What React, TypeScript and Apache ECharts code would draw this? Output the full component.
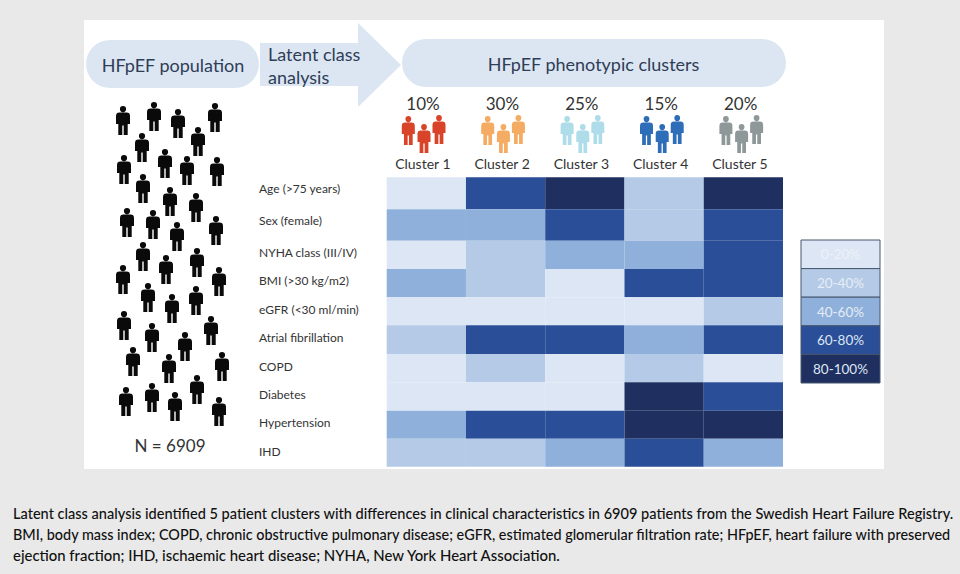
import React, { useEffect, useRef } from "react";
import * as echarts from "echarts";

const clusters = ["Cluster 1", "Cluster 2", "Cluster 3", "Cluster 4", "Cluster 5"];
const clusterShares = ["10%", "30%", "25%", "15%", "20%"];
const clusterColors = ["#D9432A", "#F4AC63", "#AEDCE8", "#2E6DB8", "#8F9899"];
const traits = [
  "Age (>75 years)", "Sex (female)", "NYHA class (III/IV)", "BMI (>30 kg/m2)", "eGFR (<30 ml/min)",
  "Atrial fibrillation", "COPD", "Diabetes", "Hypertension", "IHD",
];
// Prevalence band per cluster: 0 = 0-20%, 1 = 20-40%, 2 = 40-60%, 3 = 60-80%, 4 = 80-100%
const age = [0, 3, 4, 1, 4];
const sex = [2, 2, 3, 1, 3];
const nyha = [0, 1, 2, 2, 3];
const bmi = [2, 1, 0, 3, 3];
const egfr = [0, 0, 0, 0, 1];
const af = [1, 3, 3, 2, 3];
const copd = [0, 1, 0, 1, 0];
const diabetes = [0, 0, 0, 4, 3];
const hypertension = [2, 3, 3, 4, 4];
const ihd = [1, 1, 2, 3, 2];
const bands = [age, sex, nyha, bmi, egfr, af, copd, diabetes, hypertension, ihd];

const bandLabels = ["0-20%", "20-40%", "40-60%", "60-80%", "80-100%"];
const bandColors = ["#DCE6F4", "#B5CAE6", "#8FB0DA", "#2A4F98", "#1F3060"];
const legendTextColors = ["#EDF2F9", "#E6EDF6", "#E6EDF6", "#DDE6F4", "#DDE6F4"];

// The source figure's rows are not of equal height; positions on the y scale
const rowEdges = [0, 32, 63.4, 91.7, 120, 148, 176.7, 205, 233.4, 261.4, 289.4];
const labelCenters = [11.5, 43.2, 75.2, 103.2, 132.2, 160.2, 189.2, 217.2, 245.2, 274.2];

const crowd = [
  [123, 106], [154, 102], [178, 109], [215, 103], [198, 127], [142, 133], [165, 149], [124, 155],
  [187, 156], [217, 157], [143, 174], [170, 187], [196, 193], [127, 208], [153, 210], [177, 222],
  [216, 216], [143, 242], [166, 255], [197, 248], [123, 265], [219, 267], [148, 283], [196, 286],
  [172, 294], [124, 311], [152, 323], [211, 316], [185, 332], [133, 347], [169, 354], [222, 352],
  [197, 375], [126, 387], [152, 383], [175, 392], [219, 397],
];
const trio = [[408.3, 116], [424, 124], [439, 115]];

const caption = [
  "Latent class analysis identified 5 patient clusters with differences in clinical characteristics in 6909 patients from the Swedish Heart Failure Registry.",
  "BMI, body mass index; COPD, chronic obstructive pulmonary disease; eGFR, estimated glomerular filtration rate; HFpEF, heart failure with preserved",
  "ejection fraction; IHD, ischaemic heart disease; NYHA, New York Heart Association.",
];
const captionSizes = [14.55, 14.4, 14.9];

const PERSON =
  "M7 0A3.1 3.1 0 1 1 7 6.2A3.1 3.1 0 1 1 7 0Z M3.5 6.6H10.5Q14 6.6 14 10V18H11.7V29H7.7V19.5H6.3V29H2.3V18H0V10Q0 6.6 3.5 6.6Z";
echarts.graphic.registerShape("person", echarts.graphic.extendPath(PERSON, {}) as any);

const FONT = "Lato";
const HEAD = "#2F3D57";
const BODY = "#333333";

function label(text: string, x: number, y: number, fontSize: number, fill: string, textAlign = "center", fontWeight: any = 400) {
  return {
    type: "text", x, y, silent: true,
    style: { text, fontSize, fontFamily: FONT, fontWeight, fill, textAlign, textVerticalAlign: "middle" },
  };
}

function buildGraphic() {
  const els: any[] = [];
  els.push({ type: "rect", shape: { x: 84, y: 20, width: 800, height: 449 }, style: { fill: "#FFFFFF" }, silent: true });
  els.push({ type: "rect", shape: { x: 86, y: 40, width: 173, height: 48, r: 24 }, style: { fill: "#DCE6F2" }, silent: true });
  els.push({
    type: "polygon",
    shape: { points: [[260, 43], [358, 43], [358, 23], [401, 65], [358, 107], [358, 86], [260, 86]] },
    style: { fill: "#DCE6F2" }, silent: true,
  });
  els.push({ type: "rect", shape: { x: 402, y: 39, width: 384, height: 48, r: 24 }, style: { fill: "#DCE6F2" }, silent: true });
  els.push(label("HFpEF population", 173, 64.5, 18, HEAD));
  els.push(label("Latent class", 268, 53.5, 18, HEAD, "left"));
  els.push(label("analysis", 268, 77, 18, HEAD, "left"));
  els.push(label("HFpEF phenotypic clusters", 593.5, 64, 18, HEAD));
  els.push(label("N = 6909", 170, 445.5, 17, BODY));
  crowd.forEach(([x, y]) => {
    els.push({ type: "person", x: x - 7, y, style: { fill: "#0A0A0A" }, silent: true });
  });
  clusters.forEach((_, i) => {
    const dx = i * 79.4;
    els.push(label(clusterShares[i], 423 + i * 79.4, 103, 17, BODY));
    trio.forEach(([x, y]) => {
      els.push({
        type: "person", x: x + dx - 6.5, y, scaleX: 0.93, scaleY: 1,
        style: { fill: clusterColors[i] }, silent: true,
      });
    });
  });
  bandLabels.forEach((text, i) => {
    const h = 28.6;
    const y = 240 + i * h;
    els.push({
      type: "rect", shape: { x: 801, y, width: 79, height: h },
      style: { fill: bandColors[i], stroke: "#46566E", lineWidth: 1 }, silent: true,
    });
    els.push(label(text, 840.5, y + h / 2, 13.5, legendTextColors[i]));
  });
  caption.forEach((text, i) => {
    els.push(label(text, 13, 513.5 + i * 20.6, captionSizes[i], "#111111", "left", 500));
  });
  return els;
}

function renderCell(_: any, api: any) {
  const col = api.value(0);
  const row = api.value(3);
  const band = api.value(2);
  const top = api.coord([col, rowEdges[row]]);
  const bottom = api.coord([col, rowEdges[row + 1]]);
  const w = api.size([1, 0])[0];
  return {
    type: "rect",
    shape: { x: top[0] - w / 2, y: top[1], width: w, height: bottom[1] - top[1] },
    style: { fill: bandColors[band] },
  };
}

export default function App() {
  const ref = useRef<HTMLDivElement>(null);
  useEffect(() => {
    const chart = echarts.init(ref.current!, undefined, { renderer: "svg" });
    const cells: number[][] = [];
    bands.forEach((row, r) => {
      row.forEach((band, c) => {
        cells.push([c, (rowEdges[r] + rowEdges[r + 1]) / 2, band, r]);
      });
    });
    chart.setOption({
      animation: false,
      backgroundColor: "#E9E9E9",
      textStyle: { fontFamily: FONT },
      graphic: { elements: buildGraphic() },
      grid: { left: 386.7, top: 177.3, width: 396.3, height: 289.4 },
      xAxis: {
        type: "category",
        position: "top",
        data: clusters,
        axisLine: { show: false },
        axisTick: { show: false },
        splitLine: { show: false },
        axisLabel: {
          color: BODY, fontSize: 14, fontFamily: FONT, margin: 7, padding: [0, 7, 0, 0], interval: 0,
        },
      },
      yAxis: {
        type: "value",
        inverse: true,
        min: 0,
        max: 289.4,
        axisLine: { show: false },
        axisTick: { show: false },
        splitLine: { show: false },
        axisLabel: {
          customValues: labelCenters,
          color: BODY, fontSize: 12, fontFamily: FONT, align: "left", margin: 127.7, hideOverlap: false,
          formatter: (v: number) => {
            let best = 0;
            labelCenters.forEach((c, i) => {
              if (Math.abs(c - v) < Math.abs(labelCenters[best] - v)) best = i;
            });
            return traits[best];
          },
        },
      },
      series: [
        {
          type: "custom",
          renderItem: renderCell,
          encode: { x: 0, y: 1 },
          data: cells,
          silent: true,
        },
      ],
    });
    return () => chart.dispose();
  }, []);
  return <div ref={ref} style={{ position: "absolute", left: 0, top: 0, width: 960, height: 574 }} />;
}
